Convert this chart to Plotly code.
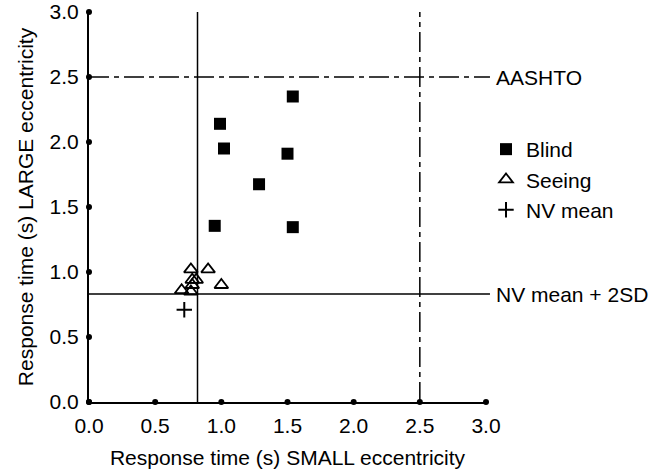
import plotly.graph_objects as go

blind_x = [1.54, 0.99, 1.02, 1.50, 1.285, 0.95, 1.54]
blind_y = [2.35, 2.14, 1.95, 1.91, 1.675, 1.355, 1.345]
seeing_x = [0.77, 0.90, 1.00, 0.78, 0.81, 0.70, 0.77, 0.78]
seeing_y = [1.02, 1.02, 0.90, 0.94, 0.94, 0.86, 0.85, 0.90]
nv_mean_x = [0.72]
nv_mean_y = [0.71]
nv_2sd_x = 0.82
nv_2sd_y = 0.83
aashto = 2.5
ticks = [0.0, 0.5, 1.0, 1.5, 2.0, 2.5, 3.0]
tick_labels = ["0.0", "0.5", "1.0", "1.5", "2.0", "2.5", "3.0"]

FONT = "Liberation Sans, Arial, Helvetica, sans-serif"
FS = 21

fig = go.Figure()

# threshold lines
fig.add_shape(type="line", xref="x", yref="y", x0=nv_2sd_x, x1=nv_2sd_x, y0=0, y1=3,
              line=dict(color="black", width=1.5))
fig.add_shape(type="line", xref="paper", yref="y", x0=0, x1=1.01, y0=nv_2sd_y, y1=nv_2sd_y,
              line=dict(color="black", width=1.5))
fig.add_shape(type="line", xref="x", yref="y", x0=aashto, x1=aashto, y0=0, y1=3,
              line=dict(color="black", width=1.5, dash="20px,5px,5px,5px"))
fig.add_shape(type="line", xref="paper", yref="y", x0=0, x1=1.01, y0=aashto, y1=aashto,
              line=dict(color="black", width=1.5, dash="20px,5px,5px,5px"))

# tick dots
fig.add_trace(go.Scatter(x=ticks, y=[0]*len(ticks), mode="markers",
                         marker=dict(symbol="circle", size=6, color="black"),
                         cliponaxis=False, showlegend=False, hoverinfo="skip"))
fig.add_trace(go.Scatter(x=[0]*len(ticks), y=ticks, mode="markers",
                         marker=dict(symbol="circle", size=6, color="black"),
                         cliponaxis=False, showlegend=False, hoverinfo="skip"))

fig.add_trace(go.Scatter(x=blind_x, y=blind_y, mode="markers", name="Blind",
                         legendgroup="a",
                         marker=dict(symbol="square", size=12, color="black")))
fig.add_trace(go.Scatter(x=seeing_x, y=seeing_y, mode="markers", name="Seeing",
                         legendgroup="b",
                         marker=dict(symbol="triangle-up-open", size=12, color="black",
                                     line=dict(width=1.8, color="black"))))
fig.add_trace(go.Scatter(x=nv_mean_x, y=nv_mean_y, mode="markers", name="NV mean",
                         legendgroup="c",
                         marker=dict(symbol="cross-thin", size=11,
                                     line=dict(width=2, color="black"))))

fig.add_annotation(xref="paper", yref="y", x=1.02, y=aashto, text="AASHTO",
                   showarrow=False, xanchor="left", yanchor="middle",
                   font=dict(size=FS, color="black", family=FONT))
fig.add_annotation(xref="paper", yref="y", x=1.02, y=nv_2sd_y, text="NV mean + 2SD",
                   showarrow=False, xanchor="left", yanchor="middle",
                   font=dict(size=FS, color="black", family=FONT))

axis_common = dict(range=[0, 3], tickvals=ticks, ticktext=tick_labels,
                   showgrid=False, zeroline=False, showline=True,
                   linecolor="black", linewidth=2, ticks="", automargin=False,
                   ticklabeloverflow="allow",
                   tickfont=dict(size=FS, color="black", family=FONT))

fig.update_layout(
    width=668, height=472,
    margin=dict(l=89, r=182, t=12, b=70),
    paper_bgcolor="white", plot_bgcolor="white",
    font=dict(family=FONT, size=FS, color="black"),
    xaxis=dict(**axis_common, ticklabelstandoff=4,
               title=dict(text="Response time (s) SMALL eccentricity",
                          font=dict(size=FS), standoff=14)),
    yaxis=dict(**axis_common, ticklabelstandoff=4,
               title=dict(text="Response time (s) LARGE eccentricity",
                          font=dict(size=FS), standoff=10)),
    legend=dict(x=1.0, y=0.7, xanchor="left", yanchor="top",
                font=dict(size=FS, family=FONT), tracegroupgap=0,
                bgcolor="rgba(0,0,0,0)"),
    showlegend=True,
)

fig.write_html("out.html", config={"displayModeBar": False},
               post_script="document.body.style.margin='0px';")
